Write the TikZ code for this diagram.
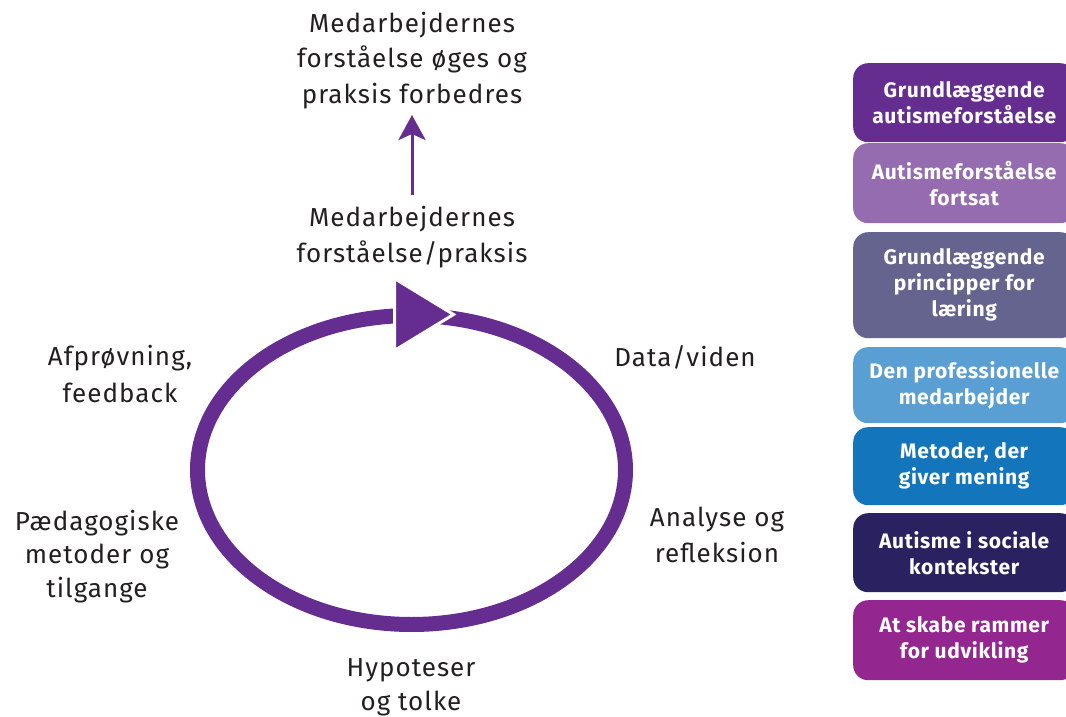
\documentclass[tikz,border=0pt]{standalone}
\usepackage{fontspec}
\setmainfont{Fira Sans}
\newfontfamily\lblfont[LetterSpace=4]{Fira Sans}
\newfontfamily\boxfont[LetterSpace=3]{Fira Sans}
\usetikzlibrary{arrows.meta}
\definecolor{cyc}{HTML}{662D91}
\definecolor{txt}{HTML}{231F20}
\definecolor{bA}{HTML}{662D91}
\definecolor{bB}{HTML}{956CB0}
\definecolor{bC}{HTML}{65648E}
\definecolor{bD}{HTML}{5A9FD4}
\definecolor{bE}{HTML}{1375BC}
\definecolor{bF}{HTML}{2A2160}
\definecolor{bG}{HTML}{93278F}
\begin{document}
\begin{tikzpicture}[x=1pt,y=-1pt,
  lbl/.style={align=center,anchor=base,inner sep=0pt,text=txt,font=\lblfont\fontsize{26}{35.5}\selectfont},
  tbox/.style={anchor=north west,rounded corners=15pt,minimum width=222pt,inner sep=0pt,
    align=center,text=white,font=\boxfont\fontsize{21}{26}\selectfont\bfseries}]
\useasboundingbox (0,0) rectangle (1066,717);
% ring
\draw[cyc,line width=15pt] (411.5,470) ellipse [x radius=214pt, y radius=154.5pt];
\fill[cyc,draw=white,line width=3pt] (394.5,278.5) -- (394.5,350.5) -- (453.5,314.5) -- cycle;
% labels (anchor = baseline of last line)
\node[lbl] (top) at (412,103) {Medarbejdernes\\forståelse øges og\\praksis forbedres};
\node[lbl] (mid) at (412,262) {Medarbejdernes\\forståelse/praksis};
\node[lbl,font=\lblfont\fontsize{26}{37}\selectfont] (afpr) at (120,402) {Afprøvning,\\feedback};
\node[lbl,font=\lblfont\fontsize{26}{33.5}\selectfont] (paed) at (97,597) {Pædagogiske\\metoder og\\tilgange};
\node[lbl] (data) at (685,366) {Data/viden};
\node[lbl] (anal) at (717,562) {Analyse og\\refleksion};
\node[lbl,font=\lblfont\fontsize{26}{34}\selectfont] (hyp) at (411,710) {Hypoteser\\og tolke};
\coordinate (arrS) at ([yshift=67pt]mid.base);
\coordinate (arrE) at ([yshift=-12pt]top.base);
\draw[cyc,line width=3pt,-{Stealth[length=25pt,width=27pt,inset=6pt]}] (arrS) -- (arrE);
% boxes
\begin{scope}
\clip (0,0) rectangle (1066,717);
\node[tbox,fill=bA,minimum height=79pt] (b1) at (853,63) {Grundlæggende\\autismeforståelse};
\node[tbox,fill=bB,minimum height=80pt] (b2) at (853,143) {Autismeforståelse\\fortsat};
\node[tbox,fill=bC,minimum height=106pt] (b3) at (853,232) {Grundlæggende\\principper for\\læring};
\node[tbox,fill=bD,minimum height=76pt] (b4) at (853,347) {Den professionelle\\medarbejder};
\node[tbox,fill=bE,minimum height=78pt] (b5) at (853,427) {Metoder, der\\giver mening};
\node[tbox,fill=bF,minimum height=79pt] (b6) at (853,513) {Autisme i sociale\\kontekster};
\node[tbox,fill=bG,minimum height=80pt] (b7) at (853,600) {At skabe rammer\\for udvikling};
\end{scope}
\end{tikzpicture}
\end{document}
